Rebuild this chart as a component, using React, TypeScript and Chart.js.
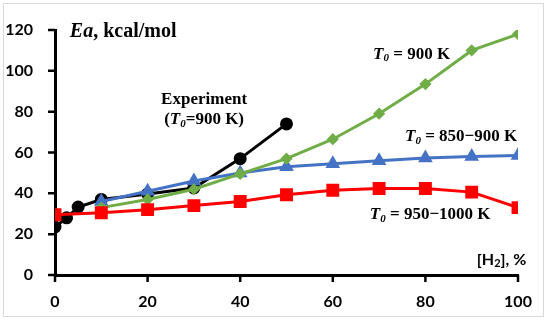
import React, { useEffect, useRef } from "react";
import { Chart, registerables } from "chart.js";

Chart.register(...registerables);

const expX = [0, 2.5, 5, 10, 20, 30, 40, 50];
const expY = [23.5, 28, 33.3, 37, 39.7, 42.6, 57, 74];

const simX = [10, 20, 30, 40, 50, 60, 70, 80, 90, 100];
const green900 = [33, 37, 42, 49.5, 57, 66.5, 79, 93.5, 110, 118];
const blue850 = [36, 41, 46, 50, 53, 54.5, 56, 57.3, 58, 58.5];

const redX = [0, 10, 20, 30, 40, 50, 60, 70, 80, 90, 100];
const red950 = [29.5, 30.5, 32, 34, 36, 39.3, 41.5, 42.4, 42.4, 40.6, 33];

const xTicks = [0, 20, 40, 60, 80, 100];
const yTicks = [0, 20, 40, 60, 80, 100, 120];

const toPts = (xs: number[], ys: number[]) => xs.map((x, i) => ({ x, y: ys[i] }));

type Run = { t: string; f: string; dy?: number };
const SERIF = "'Liberation Serif', 'Times New Roman', serif";
const B = (s: number) => `bold ${s}px ${SERIF}`;
const BI = (s: number) => `italic bold ${s}px ${SERIF}`;

const labels: { x: number; y: number; align: "left" | "center"; runs: Run[] }[] = [
  { x: 3.2, y: 119, align: "left", runs: [{ t: "Ea", f: BI(20) }, { t: ", kcal/mol", f: B(20) }] },
  { x: 32.2, y: 86, align: "center", runs: [{ t: "Experiment", f: B(17) }] },
  {
    x: 32.2, y: 76, align: "center",
    runs: [{ t: "(", f: B(17) }, { t: "T", f: BI(17) }, { t: "0", f: BI(11), dy: 4 }, { t: "=900 K)", f: B(17) }],
  },
  {
    x: 68.7, y: 108, align: "left",
    runs: [{ t: "T", f: BI(17) }, { t: "0", f: BI(11), dy: 4 }, { t: " = 900 K", f: B(17) }],
  },
  {
    x: 75.6, y: 67.6, align: "left",
    runs: [{ t: "T", f: BI(17) }, { t: "0", f: BI(11), dy: 4 }, { t: " = 850\u2212900 K", f: B(17) }],
  },
  {
    x: 68, y: 29.4, align: "left",
    runs: [{ t: "T", f: BI(17) }, { t: "0", f: BI(11), dy: 4 }, { t: " = 950\u22121000 K", f: B(17) }],
  },
  {
    x: 91.1, y: 7.4, align: "left",
    runs: [
      { t: "[H", f: "bold 16px Lato" },
      { t: "2", f: "bold 11px Lato", dy: 4 },
      { t: "], %", f: "bold 16px Lato" },
    ],
  },
];

const TICK_LEN = 7;

const framePlugin = {
  id: "frame",
  beforeDraw(chart: any) {
    const ctx = chart.ctx;
    ctx.save();
    ctx.fillStyle = "#fff";
    ctx.fillRect(0, 0, chart.width, chart.height);
    ctx.strokeStyle = "#d9d9d9";
    ctx.lineWidth = 1;
    ctx.strokeRect(3.5, 3.5, 540, 313);
    ctx.restore();
  },
  afterDraw(chart: any) {
    const ctx = chart.ctx;
    const xs = chart.scales.x;
    const ys = chart.scales.y;
    const area = chart.chartArea;
    ctx.save();
    // tick marks
    ctx.strokeStyle = "#000";
    ctx.lineWidth = 2.5;
    ctx.beginPath();
    for (const v of xTicks) {
      const px = xs.getPixelForValue(v);
      ctx.moveTo(px, area.bottom);
      ctx.lineTo(px, area.bottom + TICK_LEN);
    }
    for (const v of yTicks) {
      const py = ys.getPixelForValue(v);
      ctx.moveTo(area.left, py);
      ctx.lineTo(area.left - TICK_LEN, py);
    }
    ctx.stroke();
    // annotations
    ctx.fillStyle = "#000";
    ctx.textBaseline = "middle";
    ctx.textAlign = "left";
    for (const l of labels) {
      let total = 0;
      for (const r of l.runs) {
        ctx.font = r.f;
        total += ctx.measureText(r.t).width;
      }
      let px = xs.getPixelForValue(l.x);
      const py = ys.getPixelForValue(l.y);
      if (l.align === "center") px -= total / 2;
      for (const r of l.runs) {
        ctx.font = r.f;
        ctx.fillText(r.t, px, py + (r.dy || 0));
        px += ctx.measureText(r.t).width;
      }
    }
    ctx.restore();
  },
};

export default function App() {
  const ref = useRef<HTMLCanvasElement | null>(null);
  useEffect(() => {
    if (!ref.current) return;
    const tickFont = { family: "Lato", weight: "bold" as const, size: 16 };
    const chart = new Chart(ref.current, {
      type: "line",
      data: {
        datasets: [
          {
            label: "T0 = 950-1000 K",
            data: toPts(redX, red950),
            borderColor: "#FF0000",
            backgroundColor: "#FF0000",
            borderWidth: 3,
            pointStyle: "rect",
            pointRadius: 7,
            order: 0,
          },
          {
            label: "T0 = 900 K",
            data: toPts(simX, green900),
            borderColor: "#70AD47",
            backgroundColor: "#70AD47",
            borderWidth: 3,
            pointStyle: "rectRot",
            pointRadius: 4,
            order: 1,
          },
          {
            label: "T0 = 850-900 K",
            data: toPts(simX, blue850),
            borderColor: "#4472C4",
            backgroundColor: "#4472C4",
            borderWidth: 3,
            pointStyle: "triangle",
            pointRadius: 5.5,
            order: 2,
          },
          {
            label: "Experiment",
            data: toPts(expX, expY),
            borderColor: "#000",
            backgroundColor: "#000",
            borderWidth: 3,
            pointStyle: "circle",
            pointRadius: 5,
            order: 3,
          },
        ],
      },
      options: {
        animation: false,
        responsive: false,
        layout: { padding: { top: 30, right: 32, left: 0, bottom: 0 } },
        plugins: { legend: { display: false }, tooltip: { enabled: false } },
        elements: { line: { tension: 0 }, point: { borderWidth: 0 } },
        scales: {
          x: {
            type: "linear",
            min: 0,
            max: 100,
            afterBuildTicks: (s: any) => {
              s.ticks = xTicks.map((v) => ({ value: v }));
            },
            afterFit: (s: any) => {
              s.height = 49;
            },
            ticks: { font: tickFont, color: "#000", padding: 11, maxRotation: 0 },
            grid: { drawOnChartArea: false, drawTicks: true, tickLength: 6, color: "rgba(0,0,0,0)", tickColor: "rgba(0,0,0,0)" },
            border: { color: "#000", width: 3 },
          },
          y: {
            type: "linear",
            min: 0,
            max: 120,
            afterBuildTicks: (s: any) => {
              s.ticks = yTicks.map((v) => ({ value: v }));
            },
            afterFit: (s: any) => {
              s.width = 55;
            },
            ticks: { font: tickFont, color: "#000", padding: 16 },
            grid: { drawOnChartArea: false, drawTicks: true, tickLength: 6, color: "rgba(0,0,0,0)", tickColor: "rgba(0,0,0,0)" },
            border: { color: "#000", width: 3 },
          },
        },
      },
      plugins: [framePlugin],
    });
    return () => chart.destroy();
  }, []);
  return (
    <div style={{ position: "absolute", left: 0, top: 0, width: 550, height: 324 }}>
      <canvas ref={ref} width={550} height={324} style={{ width: 550, height: 324 }} />
    </div>
  );
}
